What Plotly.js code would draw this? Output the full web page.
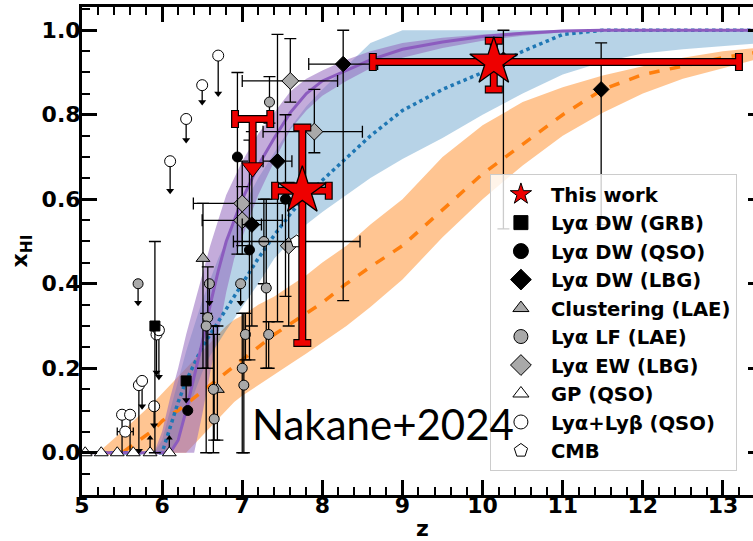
<!DOCTYPE html>
<html>
<head>
<meta charset="utf-8">
<script src="https://cdn.plot.ly/plotly-3.0.1.min.js"></script>
<style>
html,body{margin:0;padding:0;overflow:hidden;background:#fff;width:753px;height:541px;}
#plot{width:770px;height:541px;}
</style>
</head>
<body>
<div id="plot"></div>
<script>
// ---------- model bands (redshift grid and x_HI values) ----------
const bandZ = [5.0,5.2,5.5,5.9,6.0,6.1,6.2,6.3,6.4,6.5,6.6,6.7,6.8,6.9,7.0,7.2,7.4,7.6,7.8,8.0,8.3,8.6,9.0,9.5,10.0,10.5,11.0,11.5,12.0,12.5,13.0,13.5];

const purpleMid = [0,0,0,0,0,0,0.03,0.10,0.18,0.26,0.35,0.43,0.50,0.55,0.60,0.68,0.745,0.805,0.85,0.88,0.905,0.93,0.955,0.972,0.985,0.993,0.998,1,1,1,1,1];
const purpleLo  = [0,0,0,0,0,0,0,0,0,0.09,0.19,0.28,0.38,0.46,0.51,0.61,0.69,0.765,0.81,0.845,0.88,0.91,0.935,0.958,0.975,0.987,0.995,1,1,1,1,1];
const purpleHi  = [0,0,0,0,0.05,0.13,0.20,0.28,0.35,0.42,0.49,0.55,0.61,0.65,0.69,0.755,0.805,0.855,0.885,0.905,0.93,0.95,0.97,0.982,0.99,0.996,1,1,1,1,1,1];

const blueMid = [0,0,0,0,0,0.06,0.12,0.17,0.21,0.25,0.28,0.31,0.34,0.37,0.40,0.46,0.515,0.565,0.61,0.645,0.70,0.75,0.81,0.86,0.90,0.95,0.99,1,1,1,1,1];
const blueLo  = [0,0,0,0,0,0,0.04,0.09,0.14,0.19,0.23,0.26,0.29,0.32,0.345,0.40,0.46,0.50,0.54,0.57,0.61,0.65,0.695,0.745,0.80,0.85,0.895,0.925,0.945,0.955,0.963,0.97];
const blueHi  = [0,0,0,0,0.03,0.10,0.17,0.24,0.30,0.36,0.41,0.46,0.50,0.54,0.58,0.65,0.71,0.77,0.82,0.86,0.915,0.97,1,1,1,1,1,1,1,1,1,1];

const orangeMid = [0,0,0,0.055,0.075,0.09,0.10,0.115,0.13,0.145,0.16,0.175,0.19,0.205,0.22,0.25,0.28,0.305,0.33,0.355,0.40,0.44,0.49,0.575,0.66,0.73,0.80,0.86,0.895,0.915,0.935,0.95];
const orangeLo  = [0,0,0,0,0,0,0,0,0.02,0.04,0.06,0.08,0.10,0.12,0.135,0.16,0.185,0.21,0.235,0.26,0.30,0.345,0.41,0.51,0.60,0.68,0.75,0.805,0.85,0.885,0.91,0.935];
const orangeHi  = [0,0,0.05,0.12,0.14,0.16,0.18,0.20,0.22,0.24,0.26,0.28,0.30,0.315,0.325,0.35,0.37,0.395,0.42,0.45,0.49,0.54,0.60,0.70,0.775,0.83,0.865,0.893,0.915,0.935,0.95,0.96];

// ---------- measurements ----------
// This work (red stars)
const thisZ  = [7.75, 10.14];
const thisY  = [0.62, 0.925];
const thisZm = [0.34, 1.51];
const thisZp = [0.33, 3.06];
const thisYm = [0.36, 0.065];
const thisYp = [0.15, 0.05];
// This work upper limit
const thisLimZ = [7.13];
const thisLimY = [0.79];
const thisLimZerr = [0.22];
const thisLimLen = [0.115];

// Lya DW (GRB)
const grbZ  = [5.91, 6.30];
const grbY  = [0.30, 0.17];
const grbYp = [0.20, 0];
const grbYm = [0.30, 0];
const grbLimZ = [6.30];
const grbLimY = [0.17];
const grbLimLen = [0.045];

// Lya DW (QSO)
const qsoZ  = [6.32, 6.94, 7.09, 7.54];
const qsoY  = [0.10, 0.70, 0.48, 0.60];
const qsoYp = [0, 0.20, 0.26, 0.20];
const qsoYm = [0, 0.23, 0.26, 0.23];

// Lya DW (LBG)
const lbgZ  = [7.12, 7.44, 8.26, 10.26, 11.48];
const lbgY  = [0.54, 0.69, 0.92, 0.93, 0.86];
const lbgYp = [0.22, 0.30, 0.08, 0.07, 0.11];
const lbgYm = [0.24, 0.38, 0.56, 0.40, 0.32];
const lbgZm = [0.12, 0.18, 0.43, 0, 0];
const lbgZp = [0.12, 0.18, 0.43, 0, 0];

// Clustering (LAE)
const clZ  = [6.51, 6.69];
const clY  = [0.46, 0.15];
const clYp = [0.13, 0.15];
const clYm = [0.26, 0.12];

// Lya LF (LAE)
const lfZ  = [6.57, 6.55, 6.64, 6.65, 7.04, 7.00, 7.02, 7.30, 7.33, 7.27, 7.34];
const lfY  = [0.32, 0.30, 0.15, 0.08, 0.28, 0.20, 0.16, 0.39, 0.28, 0.50, 0.83];
const lfYp = [0.12, 0.03, 0.15, 0.20, 0.05, 0.13, 0.17, 0.21, 0.03, 0.10, 0.06];
const lfYm = [0.12, 0.30, 0.15, 0.05, 0.06, 0.20, 0.16, 0.19, 0.08, 0.10, 0.05];
const lfLimZ = [5.70, 6.59, 6.98];
const lfLimY = [0.40, 0.40, 0.40];
const lfLimLen = [0.045, 0.045, 0.045];

// Lya EW (LBG)
const ewZ  = [7.00, 7.00, 7.58, 7.60, 7.90];
const ewY  = [0.59, 0.55, 0.49, 0.88, 0.76];
const ewZm = [0.61, 0.50, 0, 0.60, 0.64];
const ewZp = [0.60, 0.50, 0, 0.59, 0.60];
const ewYp = [0.10, 0.08, 0.15, 0.10, 0.10];
const ewYm = [0.10, 0.08, 0.19, 0.05, 0.05];

// GP (QSO)
const gpZ = [5.04, 5.24, 5.44, 5.64, 5.85, 6.09];
const gpY = [0, 0, 0, 0, 0, 0];
const gpLowZ = [5.85, 6.09];
const gpLowY = [0, 0];
const gpLowLen = [0.035, 0.035];

// Lya+Lyb (QSO) upper limits
const lbZ    = [5.50, 5.60, 5.54, 5.71, 5.75, 5.90, 5.93, 5.96, 6.10, 6.30, 6.50, 6.70];
const lbY    = [0.09, 0.09, 0.05, 0.16, 0.17, 0.11, 0.28, 0.29, 0.69, 0.79, 0.87, 0.94];
const lbLen  = [0.09, 0.09, 0, 0.155, 0.06, 0.045, 0.09, 0.11, 0.07, 0.05, 0.04, 0.09];
const lbHead = [0, 0, 0, 1, 1, 1, 1, 1, 1, 1, 1, 1];
const lbZerr = [0, 0, 0.10, 0, 0, 0, 0, 0.05, 0, 0, 0, 0];

// CMB
const cmbZ = [7.68];
const cmbY = [0.50];
const cmbZerr = [0.79];

// ---------- helpers ----------
const FONT = 'DejaVu Sans';
const nz = (p, m) => p.map((v, i) => (v === 0 && m[i] === 0) ? NaN : v);
const ebar = (p, m, w) => ({type:'data', symmetric:false, array: nz(p, m), arrayminus: nz(m, p),
  color:'black', thickness:1.3, width: (w === undefined ? 6 : w)});
const band = (hi, lo, col) => ({
  x: bandZ.concat(bandZ.slice().reverse()),
  y: hi.concat(lo.slice().reverse()),
  mode:'lines', fill:'toself', fillcolor: col, line:{width:0}, showlegend:false, hoverinfo:'skip'
});
const zeros = a => a.map(() => 0);
const sub = (a, b) => a.map((v, i) => v - b[i]);
const add = (a, b) => a.map((v, i) => v + b[i]);
const pick = (a, f) => a.filter((v, i) => f[i]);

const traces = [];
traces.push(band(orangeHi, orangeLo, 'rgba(255,127,14,0.45)'));
traces.push(band(blueHi, blueLo, 'rgba(31,119,180,0.32)'));
traces.push(band(purpleHi, purpleLo, 'rgba(148,103,189,0.55)'));
traces.push({x: bandZ, y: orangeMid, mode:'lines', line:{color:'#ff7f0e', width:3.5, dash:'dash'}, showlegend:false});
traces.push({x: bandZ, y: blueMid, mode:'lines', line:{color:'#1f77b4', width:3.5, dash:'dot'}, showlegend:false});
traces.push({x: bandZ, y: purpleMid, mode:'lines', line:{color:'#8c5cbf', width:3}, showlegend:false});

const edge = {color:'black', width:1};
const noLeg = {showlegend:false, hoverinfo:'skip'};

const stems = (x, y, len, color, thick) => Object.assign({
  x: x, y: y, mode:'markers', marker:{size:1, color:'rgba(0,0,0,0)'},
  error_y:{type:'data', symmetric:false, array: zeros(len), arrayminus: len, color: color||'black', thickness: thick||1.3, width:0}
}, noLeg);
const heads = (x, y, symbol, color, size) => Object.assign({
  x: x, y: y, mode:'markers', marker:{symbol: symbol, size: size||7, color: color||'black', line:{width:0}}
}, noLeg);

traces.push(stems(lbZ, lbY, lbLen));
traces.push(heads(pick(lbZ, lbHead), sub(pick(lbY, lbHead), pick(lbLen, lbHead)), 'triangle-down'));
traces.push(Object.assign({x: lbZ, y: lbY, mode:'markers',
  marker:{symbol:'circle', size:11, color:'white', line:edge},
  error_x: ebar(lbZerr, lbZerr, 4)}, noLeg));

traces.push(stems(gpLowZ, add(gpLowY, gpLowLen), gpLowLen));
traces.push(heads(gpLowZ, add(gpLowY, gpLowLen), 'triangle-up', 'black', 6));
traces.push(Object.assign({x: gpZ, y: gpY, mode:'markers', marker:{symbol:'triangle-up', size:12, color:'white', line:edge}}, noLeg));

traces.push(stems(grbLimZ, grbLimY, grbLimLen));
traces.push(heads(grbLimZ, sub(grbLimY, grbLimLen), 'triangle-down'));
traces.push(Object.assign({x: grbZ, y: grbY, mode:'markers', marker:{symbol:'square', size:10, color:'black', line:edge},
  error_y: ebar(grbYp, grbYm)}, noLeg));

traces.push(Object.assign({x: clZ, y: clY, mode:'markers', marker:{symbol:'triangle-up', size:12, color:'#a9a9a9', line:edge},
  error_y: ebar(clYp, clYm)}, noLeg));

traces.push(stems(lfLimZ, lfLimY, lfLimLen));
traces.push(heads(lfLimZ, sub(lfLimY, lfLimLen), 'triangle-down'));
traces.push(Object.assign({x: lfLimZ, y: lfLimY, mode:'markers', marker:{symbol:'circle', size:10, color:'#a9a9a9', line:edge}}, noLeg));
traces.push(Object.assign({x: lfZ, y: lfY, mode:'markers', marker:{symbol:'circle', size:10, color:'#a9a9a9', line:edge},
  error_y: ebar(lfYp, lfYm)}, noLeg));

traces.push(Object.assign({x: ewZ, y: ewY, mode:'markers', marker:{symbol:'diamond', size:13, color:'#a9a9a9', line:edge},
  error_x: ebar(ewZp, ewZm), error_y: ebar(ewYp, ewYm)}, noLeg));

traces.push(Object.assign({x: cmbZ, y: cmbY, mode:'markers', marker:{symbol:'pentagon', size:13, color:'white', line:edge},
  error_x: ebar(cmbZerr, cmbZerr)}, noLeg));

traces.push(Object.assign({x: qsoZ, y: qsoY, mode:'markers', marker:{symbol:'circle', size:10, color:'black', line:edge},
  error_y: ebar(qsoYp, qsoYm)}, noLeg));

traces.push(Object.assign({x: lbgZ, y: lbgY, mode:'markers', marker:{symbol:'diamond', size:12, color:'black', line:edge},
  error_x: ebar(lbgZp, lbgZm), error_y: ebar(lbgYp, lbgYm)}, noLeg));

const limErrX = (c, t, w) => ({type:'data', symmetric:true, array: thisLimZerr, color:c, thickness:t, width:w});
const limErrY = (c, t) => ({type:'data', symmetric:false, array: zeros(thisLimLen), arrayminus: thisLimLen, color:c, thickness:t, width:0});
traces.push(Object.assign({x: thisLimZ, y: thisLimY, mode:'markers', marker:{size:1, color:'rgba(0,0,0,0)'},
  error_x: limErrX('black', 8, 9), error_y: limErrY('black', 8)}, noLeg));
traces.push(Object.assign({x: thisLimZ, y: thisLimY, mode:'markers', marker:{size:1, color:'rgba(0,0,0,0)'},
  error_x: limErrX('#ee0000', 5.5, 8), error_y: limErrY('#ee0000', 5.5)}, noLeg));
traces.push(Object.assign({x: thisLimZ, y: sub(thisLimY, thisLimLen), mode:'markers',
  marker:{symbol:'triangle-down', size:19, color:'#ee0000', line:{color:'black', width:1}}}, noLeg));

const starErr = (p, m, c, t, w) => ({type:'data', symmetric:false, array:p, arrayminus:m, color:c, thickness:t, width:w});
traces.push(Object.assign({x: thisZ, y: thisY, mode:'markers', marker:{size:1, color:'rgba(0,0,0,0)'},
  error_x: starErr(thisZp, thisZm, 'black', 8, 9), error_y: starErr(thisYp, thisYm, 'black', 8, 9)}, noLeg));
traces.push(Object.assign({x: thisZ, y: thisY, mode:'markers',
  marker:{symbol:'star', size:36, color:'#ee0000', line:{color:'black', width:1.3}},
  error_x: starErr(thisZp, thisZm, '#ee0000', 5.5, 8), error_y: starErr(thisYp, thisYm, '#ee0000', 5.5, 8)}, noLeg));

// ---------- legend entries ----------
const legendItems = [
  ['This work', 'star', '#ee0000', 17],
  ['Lyα DW (GRB)', 'square', 'black', 14],
  ['Lyα DW (QSO)', 'circle', 'black', 15],
  ['Lyα DW (LBG)', 'diamond', 'black', 17],
  ['Clustering (LAE)', 'triangle-up', '#a9a9a9', 14],
  ['Lyα LF (LAE)', 'circle', '#a9a9a9', 14],
  ['Lyα EW (LBG)', 'diamond', '#a9a9a9', 17],
  ['GP (QSO)', 'triangle-up', 'white', 14],
  ['Lyα+Lyβ (QSO)', 'circle', 'white', 14],
  ['CMB', 'pentagon', 'white', 14]
];
legendItems.forEach((it, i) => {
  traces.push({x:[null], y:[null], mode:'markers', name: '<b>' + it[0] + '</b>', legendrank: i + 1,
    marker:{symbol: it[1], color: it[2], size: it[3], line:{color:'black', width:1}}});
});

const tickFont = {family: FONT, size: 22, color:'black'};
const layout = {
  width: 770, height: 541,
  margin: {l:82, r:7, t:7, b:46},
  paper_bgcolor:'white', plot_bgcolor:'white',
  showlegend: true,
  xaxis: {
    range:[5, 13.5], tick0:5, dtick:1, ticks:'inside', ticklen:15, tickwidth:2.5, tickcolor:'black',
    showline:true, linewidth:3, linecolor:'black', mirror:'ticks', showgrid:false, zeroline:false,
    minor:{dtick:0.2, ticks:'inside', ticklen:8, tickwidth:1.5, tickcolor:'black', showgrid:false},
    tickfont: tickFont, tickprefix:'<b>', ticksuffix:'</b>', ticklabelstandoff:-11,
    title:{text:'<b>z</b>', font:{family:FONT, size:22, color:'black'}, standoff:16}
  },
  yaxis: {
    range:[-0.1, 1.055], tick0:0, dtick:0.2, tickformat:'.1f', ticks:'inside', ticklen:15, tickwidth:2.5, tickcolor:'black',
    showline:true, linewidth:3, linecolor:'black', mirror:'ticks', showgrid:false, zeroline:false,
    minor:{dtick:0.05, ticks:'inside', ticklen:8, tickwidth:1.5, tickcolor:'black', showgrid:false},
    tickfont: tickFont, tickprefix:'<b>', ticksuffix:'</b>', ticklabelstandoff:-6,
    title:{text:'<b>x<sub>HI</sub></b>', font:{family:FONT, size:22, color:'black'}, standoff:8}
  },
  legend: {
    x:0.599, y:0.658, xanchor:'left', yanchor:'top',
    bgcolor:'rgba(255,255,255,0.8)', bordercolor:'#cccccc', borderwidth:1,
    font:{family:FONT, size:19.6, color:'black'},
    itemsizing:'trace', itemwidth:50
  },
  annotations: [{
    x:7.097, y:0.068, xref:'x', yref:'y', xanchor:'left', yanchor:'middle', showarrow:false,
    text:'Nakane+2024', font:{family:'Lato', size:42, color:'black'}
  }]
};

Plotly.newPlot('plot', traces, layout, {displayModeBar:false});
</script>
</body>
</html>
